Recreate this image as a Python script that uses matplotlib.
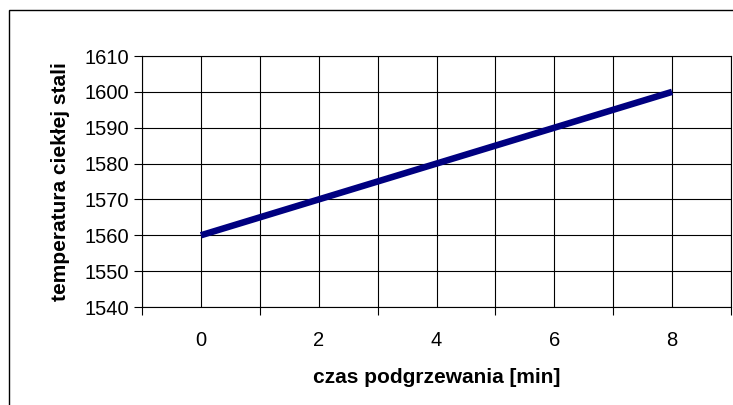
import numpy as np
import matplotlib
matplotlib.use('Agg')
import matplotlib.pyplot as plt
from matplotlib.patches import Rectangle

# data
czas = ['0', '2', '4', '6', '8']
temperatura = [1560, 1570, 1580, 1590, 1600]

plt.rcParams['font.family'] = ['Liberation Sans', 'DejaVu Sans']

fig = plt.figure(figsize=(7.33, 4.05), dpi=100)
ax = fig.add_axes([142 / 733, 1 - 307 / 405, 589 / 733, 251 / 405])

pos = np.arange(len(czas))
ax.plot(pos, temperatura, color='#000080', linewidth=4.7, solid_capstyle='butt', zorder=3)

# category axis: labels at centres, ticks between categories
ax.set_xlim(-0.5, len(czas) - 0.5)
ax.set_xticks(pos)
ax.set_xticklabels(czas)
ax.set_xticks(np.arange(-0.5, len(czas), 1.0), minor=True)
ax.tick_params(axis='x', which='major', length=0, pad=17, labelsize=14.5)
ax.tick_params(axis='x', which='minor', length=6, direction='out', width=0.8)

ax.set_ylim(1540, 1610)
ax.set_yticks(np.arange(1540, 1611, 10))
ax.tick_params(axis='y', length=6, direction='out', width=0.8, labelsize=14.5, pad=3)

ax.grid(True, which='both', color='black', linewidth=0.8)
ax.set_axisbelow(True)
for s in ax.spines.values():
    s.set_color('black')
    s.set_linewidth(0.8)

ax.set_xlabel('czas podgrzewania [min]', fontsize=15, fontweight='bold', labelpad=13)
ax.set_ylabel('temperatura ciekłej stali', fontsize=15, fontweight='bold', labelpad=11)

# outer chart border
fig.patches.append(Rectangle((9 / 733, -0.01), 1.0, 1 - 10 / 405 + 0.01,
                             transform=fig.transFigure, fill=False,
                             edgecolor='black', linewidth=1.0))

fig.savefig('out.png', dpi=100)
